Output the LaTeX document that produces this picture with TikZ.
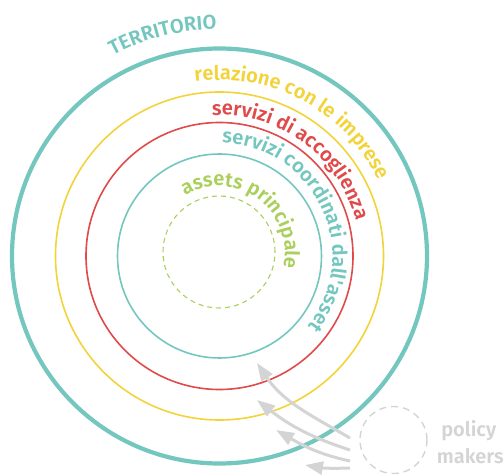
\documentclass[tikz,border=0pt]{standalone}
\usepackage{fontspec}
\IfFontExistsTF{Fira Sans SemiBold}{\newfontfamily\lab{Fira Sans SemiBold}}{\newfontfamily\lab{Fira Sans}[UprightFont={* Bold}]}
\usetikzlibrary{decorations.text, arrows.meta}
\definecolor{cteal}{HTML}{74C7BF}
\definecolor{cyellow}{HTML}{F2D33A}
\definecolor{cred}{HTML}{E04A4A}
\definecolor{cgreen}{HTML}{AACF5B}
\definecolor{cgray}{HTML}{D4D4D4}
\tikzset{
  ringtext/.style n args={2}{decorate, decoration={text along path, text={|\lab\fontsize{20}{24}\selectfont\color{#1}|#2}, text align={left}}},
  arr/.style={cgray, line width=3, -{Triangle[length=18pt,width=13pt]}},
  pmlabel/.style={font=\lab\fontsize{20}{24}\selectfont, text=cgray, inner sep=0pt, anchor=base}
}
\begin{document}
\begin{tikzpicture}[x=1pt,y=1pt]
\useasboundingbox (0,0) rectangle (503,474);
\coordinate (C) at (219.5,218);
\coordinate (D) at (219,222);
% rings
\draw[cteal, line width=4.2] (C) circle[radius=207.5];
\draw[cyellow, line width=1.6] (C) circle[radius=164];
\draw[cred, line width=1.6] (C) circle[radius=133.5];
\draw[cteal, line width=1.6] (C) circle[radius=102];
\draw[cgreen, line width=1.1, dash pattern=on 5pt off 4pt] (D) circle[radius=56];
% ring labels
\path[decorate, decoration={text along path, text={|\lab\fontsize{20}{24}\selectfont\color{cteal}|TERRITORIO}, text align={left}}]
  ([shift={(C)}]118:227) arc[start angle=118, end angle=50, radius=227];
\path[ringtext={cyellow}{relazione con le imprese}]
  ([shift={(C)}]98:176) arc[start angle=98, end angle=-20, radius=176];
\path[ringtext={cred}{servizi di accoglienza}]
  ([shift={(C)}]93:141) arc[start angle=93, end angle=-30, radius=141];
\path[ringtext={cteal}{servizi coordinati dall'asset}]
  ([shift={(C)}]88.7:113) arc[start angle=88.7, end angle=-80, radius=113];
\path[ringtext={cgreen}{assets principale}]
  ([shift={(D)}]121:66) arc[start angle=121, end angle=-90, radius=66];
% policy makers
\node[circle, draw=cgray, dash pattern=on 7pt off 5pt, line width=1.4, minimum size=67pt, inner sep=0pt] (pm) at (393.5,34) {};
\node[pmlabel] (pol) at (468.8,37.3) {policy};
\node[pmlabel] (mak) at (470.3,10.7) {makers};
% arrows
\coordinate (t1) at (350,36);
\coordinate (t2) at (350,24);
\coordinate (t3) at (350,13);
\coordinate (t4) at (350,6);
\coordinate (h1) at (257,111);
\coordinate (h2) at (257,74);
\coordinate (h3) at (276,44);
\coordinate (h4) at (305,9);
\draw[arr] (t1) to[out=150,in=-56] (h1);
\draw[arr] (t2) to[out=162,in=-38] (h2);
\draw[arr] (t3) to[out=168,in=-30] (h3);
\draw[arr] (t4) to[out=182,in=-10] (h4);
\end{tikzpicture}
\end{document}
